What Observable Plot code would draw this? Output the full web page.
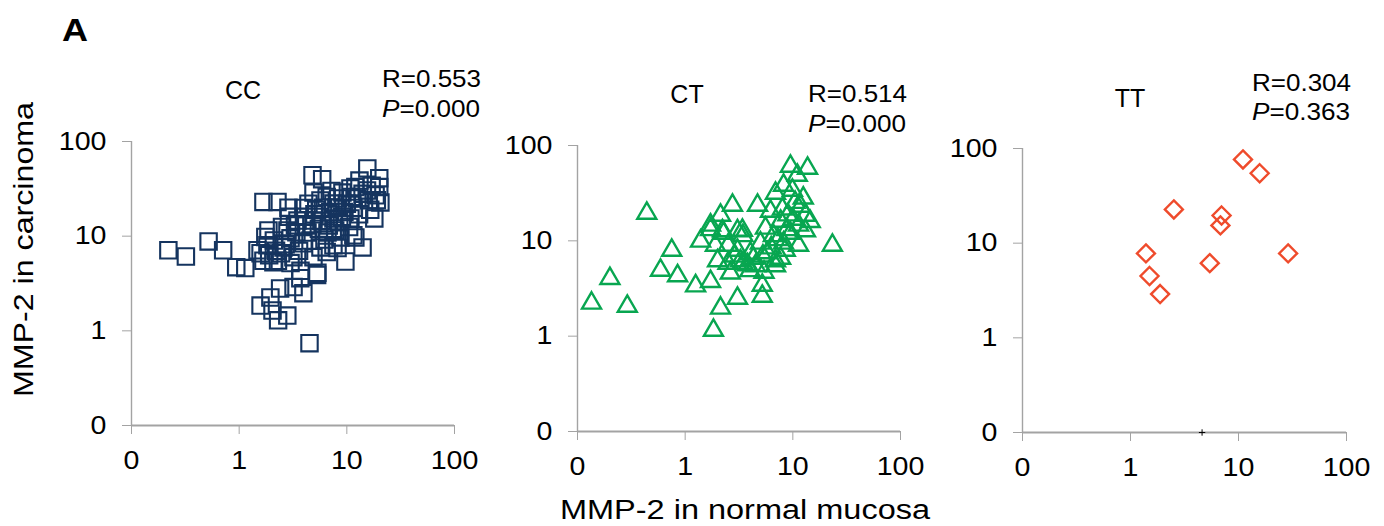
<!DOCTYPE html>
<html>
<head>
<meta charset="utf-8">
<script src="https://cdn.jsdelivr.net/npm/d3@7"></script>
<script src="https://cdn.jsdelivr.net/npm/@observablehq/plot@0.6"></script>
<style>
  body { margin: 0; background: #fff; }
  #root { position: relative; width: 1384px; height: 526px; overflow: hidden;
          font-family: "Liberation Sans", Arial, sans-serif; }
  #root svg { position: absolute; }
</style>
</head>
<body>
<div id="root"></div>
<script>
// ---------------- data ----------------
const panelLetter = "A";
const yAxisTitle = "MMP-2 in carcinoma";
const xAxisTitle = "MMP-2 in normal mucosa";
const genotypes = ["CC", "CT", "TT"];
const rValues = ["R=0.553", "R=0.514", "R=0.304"];
const pValues = ["0.000", "0.000", "0.363"];
const tickValues = [0.1, 1, 10, 100];
const tickLabels = ["0", "1", "10", "100"];

// CC genotype: MMP-2 in normal mucosa (x) vs carcinoma (y)
const ccNormal = [0.22,0.32,0.52,0.71,0.94,1.14,1.68,2.27,1.58,1.87,2.08,2.87,4.8,5.9,15.5,20,20.5,18,12,14,9.7,5.3,3.7,2.4,3.95,1.58,2.04,2.8,2.3,4.5,3.2,1.95,
  13.1,10.8,9.1,15.4,4.9,5.69,3.95,7.51,11.5,3.48,4.9,7.51,10.8,2.81,4.31,6.61,8.73,11.5,1.48,1.83,2.58,3.95,5.69,7.51,1.68,2.29,3.19,4.9,3.71,5.33,
  2.1,2.5,3.0,3.4,3.6,4.2,4.6,5.0,5.5,6.0,6.2,6.8,7.0,7.8,8.3,8.5,9.5,10,10.5,11,12.5,13,14,16,17,18.5,20,2.2,2.7,3.3,4.0,4.4,5.2,6.5,7.2,8.0,9.0,1.9,2.45,3.0,6.5,8.2,2.9,5.8,12,16.5,19,1.75];
const ccCarcinoma = [7.1,6.1,8.8,7.1,4.7,4.6,23,23,6.6,11.5,5.3,20,44,40,52,41,22.7,15.4,9.7,7.6,5.4,3.9,3.6,2.8,2.5,1.85,1.64,1.45,1.29,0.74,2.9,2.25,
  38.7,31.9,28.9,30.4,28.9,23.8,19.9,22.1,19.9,14.6,14.6,15.4,15.4,11.5,10.9,10.9,9.7,10.2,7.1,8.0,7.6,8.4,7.6,8.0,5.5,5.5,6.0,6.0,4.3,4.1,
  9.0,12.5,9.5,11,7.0,13,9,17,12,20,9.2,13,18,11.5,25,14,18,22,12.5,26,25,17,28,24,34,27,33,7.0,8.2,13,16,22,19,26,30,20,16,6.3,6.6,5.2,6.8,7.5,16,14.5,33,19,24,9.8];

// CT genotype
const ctNormal = [0.135,0.20,0.29,0.44,0.75,0.59,0.85,1.25,1.72,2.13,3.06,1.83,5.2,5.2,23.3,13.7,9.5,11.0,2.75,4.7,1.72,2.13,1.39,3.06,3.44,2.22,1.91,2.5,3.06,
  6.9,8.2,9.9,11.8,13.1,11.3,13.1,9.5,7.7,6.2,5.57,6.6,8.2,11.3,5.0,4.04,5.27,6.9,3.26,2.5,6.9,3.44,4.5,2.0,2.63,7.7,1.72,2.27,3.4,
  3.8,4.3,5.8,6.3,7.3,8.8,9.0,10.5,12.5,8.5,4.0,2.9,5.4,8.0,14.5,10];
const ctCarcinoma = [2.37,4.3,2.2,20.8,8.5,5.25,4.6,3.6,4.0,2.1,2.67,1.23,2.8,3.65,9.6,61.6,64.7,52,25.2,25.2,15.6,19.8,10.6,13.6,12.1,13.6,9.6,9.6,8.5,
  33.7,40.9,36.2,24.6,19.8,15.6,13.6,12.8,17.1,21.8,14.5,12.1,10.1,9.6,10.1,7.9,7.4,6.6,6.6,6.2,5.85,6.2,5.85,6.6,4.9,7.0,14.0,12.8,13.8,
  6.0,7.0,8.0,9.0,11,14,20,27,30,8.5,5.2,7.4,5.0,23,17,18];

// TT genotype
const ttNormal = [11.0,15.7,2.52,6.97,6.8,1.39,28.8,5.42,1.5,1.88];
const ttCarcinoma = [76.6,54.8,22.7,19.6,15.4,7.8,7.8,6.15,4.5,2.9];
const ttStrayNormal = [4.6];
const ttStrayCarcinoma = [0.1];

// ---------------- styles ----------------
const FONT = '"Liberation Sans", Arial, sans-serif';
const AXIS_GREY = "#a3a3a3";
const squareSym = { draw(ctx) { ctx.rect(-8.2, -8.2, 16.4, 16.4); } };
const triangleSym = { draw(ctx) { ctx.moveTo(0, -8.2); ctx.lineTo(9.5, 8.2); ctx.lineTo(-9.5, 8.2); ctx.closePath(); } };
const diamondSym = { draw(ctx) { ctx.moveTo(0, -9); ctx.lineTo(9, 0); ctx.lineTo(0, 9); ctx.lineTo(-9, 0); ctx.closePath(); } };

const panels = [
  { xs: ccNormal, ys: ccCarcinoma, sym: squareSym, color: "#15345f", sw: 2.1, x0: 131, x1: 454, y0: 141, y1: 425 },
  { xs: ctNormal, ys: ctCarcinoma, sym: triangleSym, color: "#08a650", sw: 2.4, x0: 577, x1: 900, y0: 145, y1: 431 },
  { xs: ttNormal, ys: ttCarcinoma, sym: diamondSym, color: "#ef4b2c", sw: 2.4, x0: 1022, x1: 1346, y0: 148, y1: 432 }
];

const root = document.getElementById("root");
const fmt = v => tickLabels[tickValues.findIndex(t => Math.abs(t - v) < 1e-9)] ?? "";
const blank = () => "";

panels.forEach((p, i) => {
  const mL = 110, mR = 40, mT = 20, mB = 60;
  const data = p.xs.map((x, j) => ({ x, y: p.ys[j] }));
  const marks = [
    Plot.ruleX([0.1], { stroke: AXIS_GREY, strokeWidth: 1.4 }),
    Plot.ruleY([0.1], { stroke: AXIS_GREY, strokeWidth: 2 }),
    Plot.axisY({ ticks: tickValues, tickFormat: blank, tickSize: 9, stroke: AXIS_GREY, label: null }),
    Plot.axisX({ ticks: tickValues, tickFormat: blank, tickSize: 9, stroke: AXIS_GREY, label: null }),
    Plot.text(tickValues, { x: 0.1, y: d => d, text: fmt, textAnchor: "end", dx: -25, fontSize: 26, fill: "#000", className: "ticklab" }),
    Plot.text(tickValues, { x: d => d, y: 0.1, text: fmt, lineAnchor: "top", dy: 25, fontSize: 26, fill: "#000", className: "ticklab" }),
    Plot.dot(data, { x: "x", y: "y", symbol: p.sym, stroke: p.color, strokeWidth: p.sw, fill: "none", r: 8 })
  ];
  if (i === 2) {
    marks.push(Plot.dot(ttStrayNormal.map((x, j) => ({ x, y: ttStrayCarcinoma[j] })),
      { x: "x", y: "y", symbol: "plus", r: 2.2, stroke: "#000", strokeWidth: 1 }));
  }
  const svg = Plot.plot({
    width: mL + (p.x1 - p.x0) + mR,
    height: mT + (p.y1 - p.y0) + mB,
    marginLeft: mL, marginRight: mR, marginTop: mT, marginBottom: mB,
    style: { fontFamily: FONT, fontSize: "26px", color: "#000", background: "transparent", overflow: "visible" },
    x: { type: "log", domain: [0.1, 100] },
    y: { type: "log", domain: [0.1, 100] },
    marks
  });
  svg.style.left = (p.x0 - mL) + "px";
  svg.style.top = (p.y0 - mT) + "px";
  root.appendChild(svg);
  // slightly widen tick label glyphs, as in the original figure
  svg.querySelectorAll(".ticklab text").forEach(t => {
    const w = t.getComputedTextLength();
    if (w > 0) { t.setAttribute("textLength", (w * 1.1).toFixed(1)); t.setAttribute("lengthAdjust", "spacingAndGlyphs"); }
  });
});

// ---------------- text overlay ----------------
const NS = "http://www.w3.org/2000/svg";
const ov = document.createElementNS(NS, "svg");
ov.setAttribute("width", 1384); ov.setAttribute("height", 526);
ov.style.left = "0px"; ov.style.top = "0px";
ov.style.fontFamily = FONT;
root.appendChild(ov);
function txt(str, x, y, opts = {}) {
  const t = document.createElementNS(NS, "text");
  t.setAttribute("x", x); t.setAttribute("y", y);
  t.setAttribute("font-size", opts.size || 24);
  if (opts.anchor) t.setAttribute("text-anchor", opts.anchor);
  if (opts.weight) t.setAttribute("font-weight", opts.weight);
  if (opts.len) { t.setAttribute("textLength", opts.len); t.setAttribute("lengthAdjust", "spacingAndGlyphs"); }
  if (opts.transform) t.setAttribute("transform", opts.transform);
  t.setAttribute("fill", "#000");
  if (Array.isArray(str)) {
    str.forEach(([s, style]) => {
      const sp = document.createElementNS(NS, "tspan");
      if (style === "italic") sp.setAttribute("font-style", "italic");
      sp.textContent = s; t.appendChild(sp);
    });
  } else t.textContent = str;
  ov.appendChild(t);
  return t;
}
txt(panelLetter, 62, 41, { size: 32, weight: "bold", len: 26 });
txt(yAxisTitle, 0, 0, { size: 28, anchor: "middle", len: 295, transform: "translate(33,249.5) rotate(-90)" });
txt(xAxisTitle, 745, 519, { size: 27, anchor: "middle", len: 370 });

const titlePos = [[243, 99], [687, 103], [1130, 107]];
const statPos = [[382, 87, 117], [808, 102, 132], [1252, 91, 120]];
genotypes.forEach((g, i) => {
  txt(g, titlePos[i][0], titlePos[i][1], { size: 25, anchor: "middle" });
  txt(rValues[i], statPos[i][0], statPos[i][1], { size: 24, len: 99 });
  txt([["P", "italic"], ["=" + pValues[i], null]], statPos[i][0], statPos[i][2], { size: 24, len: 98 });
});
</script>
</body>
</html>
